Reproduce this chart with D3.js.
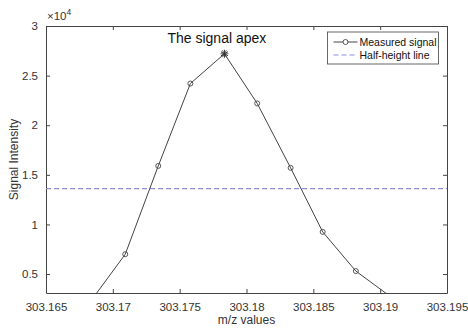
<!DOCTYPE html>
<html lang="en">
<head>
<meta charset="UTF-8">
<title>Signal apex</title>
<script src="https://d3js.org/d3.v7.min.js"></script>
<style>
  body { margin: 0; background: #fff; font-family: "Liberation Sans", Arial, sans-serif; }
  .axis path, .axis line { stroke: #444; }
  .axis text { fill: #333; font-size: 11.5px; font-family: "Liberation Sans", Arial, sans-serif; }
</style>
</head>
<body>
<svg id="chart"></svg>
<script>
// data
const mzValues = [303.1685, 303.17093, 303.1734, 303.1758, 303.17835, 303.1808, 303.1833, 303.1857, 303.18818, 303.19085];
const intensity = [2550, 7000, 15900, 24200, 27200, 22200, 15700, 9250, 5300, 2650];
const apexIndex = 4;
const halfHeight = 13600;
const xTicks = [303.165, 303.17, 303.175, 303.18, 303.185, 303.19, 303.195];
const yTicks = [5000, 10000, 15000, 20000, 25000, 30000];

const W = 468, H = 329;
const margin = { top: 26, right: 21, bottom: 36, left: 46 };
const width = W - margin.left - margin.right;
const height = H - margin.top - margin.bottom;

const svg = d3.select("#chart").attr("width", W).attr("height", H);
const g = svg.append("g").attr("transform", `translate(${margin.left},${margin.top})`);

const x = d3.scaleLinear().domain([303.165, 303.195]).range([0, width]);
const y = d3.scaleLinear().domain([3090, 30000]).range([height, 0]);

// clip so the line stops at the axes box
svg.append("defs").append("clipPath").attr("id", "clip")
  .append("rect").attr("width", width).attr("height", height);

// axes (MATLAB style: ticks inward, box all round)
const fmtX = d => d3.format(".3~f")(d);
const fmtY = d => d3.format("~g")(d / 1e4);

g.append("g").attr("class", "axis")
  .attr("transform", `translate(0,${height})`)
  .call(d3.axisBottom(x).tickValues(xTicks).tickFormat(fmtX).tickSizeInner(-4).tickSizeOuter(0).tickPadding(10));
g.append("g").attr("class", "axis")
  .call(d3.axisTop(x).tickValues(xTicks).tickFormat("").tickSizeInner(-4).tickSizeOuter(0));
g.append("g").attr("class", "axis")
  .call(d3.axisLeft(y).tickValues(yTicks).tickFormat(fmtY).tickSizeInner(-4).tickSizeOuter(0).tickPadding(8));
g.append("g").attr("class", "axis")
  .attr("transform", `translate(${width},0)`)
  .call(d3.axisRight(y).tickValues(yTicks).tickFormat("").tickSizeInner(-4).tickSizeOuter(0));

// exponent label
const expo = g.append("text").attr("x", 1).attr("y", -6)
  .attr("fill", "#333").style("font-size", "11.5px");
expo.append("tspan").text("\u00d710");
expo.append("tspan").attr("dy", -5).style("font-size", "8.5px").text("4");

const plot = g.append("g").attr("clip-path", "url(#clip)");

// half-height line
plot.append("line")
  .attr("x1", 0).attr("x2", width)
  .attr("y1", y(halfHeight)).attr("y2", y(halfHeight))
  .attr("stroke", "#8e8ede").attr("stroke-width", 1.2)
  .attr("stroke-dasharray", "5,3");

// measured signal
const pts = mzValues.map((m, i) => ({ m, v: intensity[i] }));
plot.append("path").datum(pts)
  .attr("fill", "none").attr("stroke", "#444").attr("stroke-width", 1)
  .attr("d", d3.line().x(d => x(d.m)).y(d => y(d.v)));

plot.selectAll(".mk").data(pts.filter((d, i) => i !== apexIndex)).enter()
  .append("circle").attr("class", "mk")
  .attr("cx", d => x(d.m)).attr("cy", d => y(d.v)).attr("r", 2.5)
  .attr("fill", "none").attr("stroke", "#444").attr("stroke-width", 0.9);

// apex asterisk
const apex = pts[apexIndex];
plot.append("path")
  .attr("transform", `translate(${x(apex.m)},${y(apex.v)})`)
  .attr("d", d3.symbol().type(d3.symbolAsterisk).size(45)())
  .attr("fill", "none").attr("stroke", "#333").attr("stroke-width", 1);
plot.append("path")
  .attr("transform", `translate(${x(apex.m)},${y(apex.v)}) rotate(90)`)
  .attr("d", d3.symbol().type(d3.symbolAsterisk).size(45)())
  .attr("fill", "none").attr("stroke", "#333").attr("stroke-width", 0.8);

g.append("text")
  .attr("x", x(apex.m) - 57).attr("y", y(apex.v) - 11)
  .attr("fill", "#111").style("font-size", "14px")
  .text("The signal apex");

// axis labels
svg.append("text")
  .attr("x", margin.left + width / 2).attr("y", H - 5)
  .attr("text-anchor", "middle").attr("fill", "#333").style("font-size", "12px")
  .text("m/z values");
svg.append("text")
  .attr("transform", `translate(18,${margin.top + height / 2}) rotate(-90)`)
  .attr("text-anchor", "middle").attr("fill", "#333").style("font-size", "12px")
  .text("Signal Intensity");

// legend
const lg = g.append("g").attr("transform", `translate(${327.5 - margin.left},${32 - margin.top})`);
lg.append("rect").attr("width", 111).attr("height", 32)
  .attr("fill", "#fff").attr("stroke", "#444").attr("stroke-width", 0.8);
lg.append("line").attr("x1", 6).attr("x2", 30).attr("y1", 10).attr("y2", 10)
  .attr("stroke", "#444");
lg.append("circle").attr("cx", 18).attr("cy", 10).attr("r", 2.5)
  .attr("fill", "#fff").attr("stroke", "#444").attr("stroke-width", 0.9);
lg.append("text").attr("x", 32).attr("y", 14).attr("fill", "#111")
  .style("font-size", "10.5px").text("Measured signal");
lg.append("line").attr("x1", 6).attr("x2", 30).attr("y1", 23).attr("y2", 23)
  .attr("stroke", "#8e8ede").attr("stroke-width", 1.2).attr("stroke-dasharray", "5,3");
lg.append("text").attr("x", 32).attr("y", 27).attr("fill", "#111")
  .style("font-size", "10.5px").text("Half-height line");
</script>
</body>
</html>
